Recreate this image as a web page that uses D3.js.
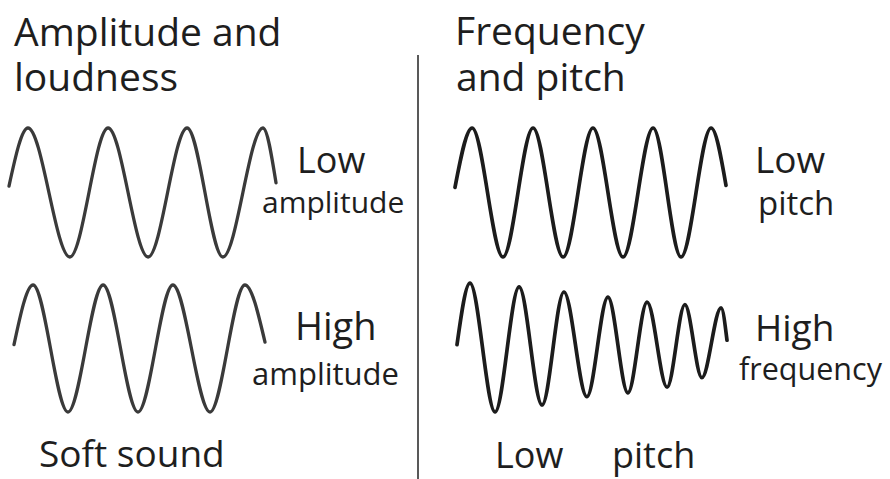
<!DOCTYPE html>
<html>
<head>
<meta charset="utf-8">
<script src="https://d3js.org/d3.v7.min.js"></script>
<style>
body { margin: 0; background: #fff; }
svg { display: block; font-family: "Open Sans", "Noto Sans", sans-serif; }
.wave { fill: none; stroke-linecap: round; stroke-linejoin: round; }
.label { fill: #1e1e1e; }
</style>
</head>
<body>
<svg id="chart"></svg>
<script>
var width = 890;
var height = 479;

// wave extrema: t = position along the wave (0-100), v = displacement (-1..1)
var lowAmpT = [0, 7.1, 22.8, 37.1, 52.1, 66.7, 80.1, 95.1, 100];
var lowAmpV = [0.1, 1, -1, 1, -1, 1, -1, 1, 0.15];

var highAmpT = [0, 7.6, 21.5, 35.5, 49.4, 63.3, 78.1, 92.0, 100];
var highAmpV = [0.06, 1, -1, 1, -1, 1, -1, 1, 0.1];

var lowPitchT = [0, 6.3, 17.7, 28.8, 39.9, 50.9, 62.0, 73.1, 83.4, 94.5, 100];
var lowPitchV = [0.08, 1, -1, 1, -1, 1, -1, 1, -1, 1, 0.11];

var highFreqT = [0, 4.8, 14.1, 23.0, 31.5, 39.6, 48.1, 55.9, 63.3, 70.4, 77.8, 84.4, 90.7, 97.8, 100];
var highFreqV = [0.06, 1.03, -1.0, 0.97, -0.89, 0.89, -0.76, 0.81, -0.70, 0.73, -0.61, 0.69, -0.46, 0.64, 0.13];

var svg = d3.select("#chart")
    .attr("width", width)
    .attr("height", height);

// row scales for displacement
var yTop = d3.scaleLinear().domain([-1, 1]).range([257, 128]);
var yBottom = d3.scaleLinear().domain([-1, 1]).range([412, 285]);

var waves = [
    { t: lowAmpT,   v: lowAmpV,   x0: 9,   x1: 276, y: yTop,    color: "#3a3a3a", w: 3.3 },
    { t: highAmpT,  v: highAmpV,  x0: 14,  x1: 265, y: yBottom, color: "#3a3a3a", w: 3.3 },
    { t: lowPitchT, v: lowPitchV, x0: 455, x1: 726, y: yTop,    color: "#1c1c1c", w: 3.7 },
    { t: highFreqT, v: highFreqV, x0: 457, x1: 727, y: yBottom, color: "#1c1c1c", w: 3.7 }
];

waves.forEach(function(wv) {
    var x = d3.scaleLinear().domain([0, 100]).range([wv.x0, wv.x1]);
    var line = d3.line()
        .x(function(d, i) { return x(wv.t[i]); })
        .y(function(d) { return wv.y(d); })
        .curve(d3.curveMonotoneX);
    svg.append("path")
        .attr("class", "wave")
        .attr("d", line(wv.v))
        .attr("stroke", wv.color)
        .attr("stroke-width", wv.w);
});

// divider
svg.append("line")
    .attr("x1", 418).attr("x2", 418)
    .attr("y1", 55).attr("y2", height)
    .attr("stroke", "#222")
    .attr("stroke-width", 1.5);

var labels = [
    { text: "Amplitude and", x: 14,  y: 46,  size: 39 },
    { text: "loudness",      x: 14,  y: 91,  size: 39 },
    { text: "Frequency",     x: 455, y: 45,  size: 39 },
    { text: "and pitch",     x: 456, y: 91,  size: 39 },
    { text: "Low",           x: 297, y: 173, size: 36 },
    { text: "amplitude",     x: 262, y: 213, size: 30 },
    { text: "High",          x: 295, y: 340, size: 38 },
    { text: "amplitude",     x: 252, y: 385, size: 31 },
    { text: "Low",           x: 755, y: 173, size: 37 },
    { text: "pitch",         x: 758, y: 215, size: 33 },
    { text: "High",          x: 755, y: 341, size: 37 },
    { text: "frequency",     x: 739, y: 380, size: 30.5 },
    { text: "Soft sound",    x: 39,  y: 467, size: 37 },
    { text: "Low",           x: 495, y: 468, size: 36 },
    { text: "pitch",         x: 612, y: 468, size: 36 }
];

svg.selectAll("text.label")
    .data(labels)
    .enter().append("text")
    .attr("class", "label")
    .attr("x", function(d) { return d.x; })
    .attr("y", function(d) { return d.y; })
    .attr("font-size", function(d) { return d.size + "px"; })
    .text(function(d) { return d.text; });
</script>
</body>
</html>
